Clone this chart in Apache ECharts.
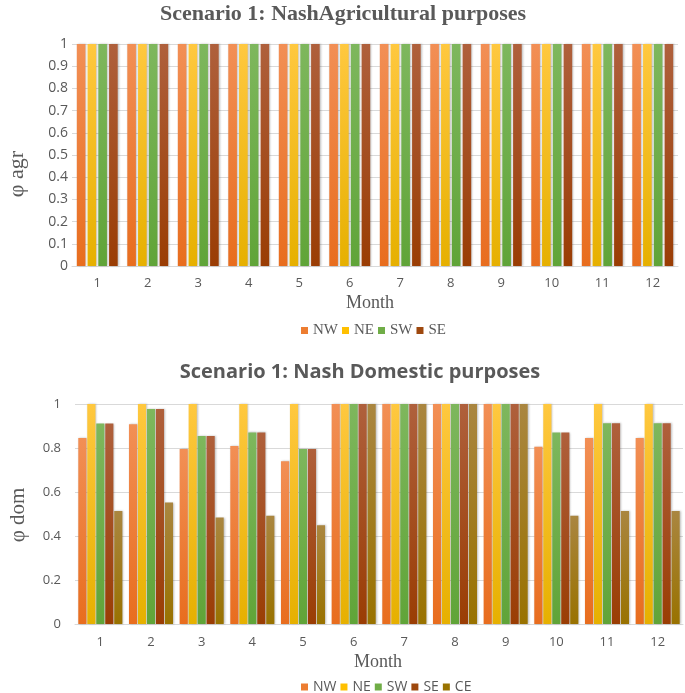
<!DOCTYPE html>
<html>
<head>
<meta charset="utf-8">
<script src="https://cdn.jsdelivr.net/npm/echarts@6/dist/echarts.min.js"></script>
<style>
html,body{margin:0;padding:0;background:#fff;}
#chart{width:685px;height:693px;}
</style>
</head>
<body>
<div id="chart"></div>
<script>
const months = ['1','2','3','4','5','6','7','8','9','10','11','12'];

const agrNW = [1,1,1,1,1,1,1,1,1,1,1,1];
const agrNE = [1,1,1,1,1,1,1,1,1,1,1,1];
const agrSW = [1,1,1,1,1,1,1,1,1,1,1,1];
const agrSE = [1,1,1,1,1,1,1,1,1,1,1,1];

const domNW = [0.846,0.908,0.796,0.809,0.740,1,1,1,1,0.806,0.846,0.846];
const domNE = [1,1,1,1,1,1,1,1,1,1,1,1];
const domSW = [0.911,0.977,0.855,0.871,0.796,1,1,1,1,0.870,0.912,0.912];
const domSE = [0.911,0.977,0.855,0.871,0.796,1,1,1,1,0.870,0.912,0.912];
const domCE = [0.514,0.552,0.484,0.492,0.449,1,1,1,1,0.492,0.514,0.514];

const topTitle = 'Scenario 1: NashAgricultural purposes';
const bottomTitle = 'Scenario 1: Nash Domestic purposes';

const pal = {
  NW: ['#F28F55', '#E86D1E', '#ED7D31'],
  NE: ['#FFC83F', '#E6B000', '#FFC000'],
  SW: ['#7EB75D', '#60A438', '#70AD47'],
  SE: ['#AF603C', '#9A3D04', '#9E480E'],
  CE: ['#AA8640', '#997200', '#997300']
};

function grad(k) {
  return new echarts.graphic.LinearGradient(0, 0, 0, 1, [
    {offset: 0, color: pal[k][0]},
    {offset: 1, color: pal[k][1]}
  ]);
}

function barSeries(name, data, idx, catGap, gap) {
  return {
    name: name, type: 'bar', data: data,
    xAxisIndex: idx, yAxisIndex: idx,
    barCategoryGap: catGap, barGap: gap,
    itemStyle: {color: grad(name), shadowColor: 'rgba(0,0,0,0.25)', shadowBlur: 2, shadowOffsetX: 1},
    emphasis: {disabled: true},
    animation: false
  };
}

const grey = '#595959';
const serif = '"Liberation Serif", "DejaVu Serif", serif';
const sans = '"Open Sans", "Liberation Sans", sans-serif';

const chart = echarts.init(document.getElementById('chart'), null, {renderer: 'canvas'});
chart.setOption({
  backgroundColor: '#fff',
  animation: false,
  grid: [
    {left: 72, right: 7, top: 44, height: 222},
    {left: 75, right: 2, top: 404, height: 220}
  ],
  xAxis: [
    {type: 'category', data: months, gridIndex: 0,
     axisLine: {lineStyle: {color: '#d9d9d9'}}, axisTick: {show: false},
     axisLabel: {color: grey, fontSize: 13, fontFamily: sans, margin: 11}},
    {type: 'category', data: months, gridIndex: 1,
     axisLine: {lineStyle: {color: '#d9d9d9'}}, axisTick: {show: false},
     axisLabel: {color: grey, fontSize: 13, fontFamily: sans, margin: 12}}
  ],
  yAxis: [
    {type: 'value', gridIndex: 0, min: 0, max: 1, interval: 0.1,
     axisLine: {show: false}, axisTick: {show: false},
     splitLine: {lineStyle: {color: '#d9d9d9'}},
     axisLabel: {color: grey, fontSize: 14, fontFamily: sans, margin: 4}},
    {type: 'value', gridIndex: 1, min: 0, max: 1, interval: 0.2,
     axisLine: {show: false}, axisTick: {show: false},
     splitLine: {lineStyle: {color: '#d9d9d9'}},
     axisLabel: {color: grey, fontSize: 13, fontFamily: sans, margin: 14}}
  ],
  legend: [
    {left: 296, top: 318, itemWidth: 7, itemHeight: 7, itemGap: 4, icon: 'rect',
     textStyle: {color: grey, fontSize: 15, fontFamily: serif},
     selectedMode: false,
     data: ['NW','NE','SW','SE'].map(k => ({name: k, itemStyle: {color: pal[k][2]}}))},
    {left: 296, top: 675, itemWidth: 7, itemHeight: 7, itemGap: 4, icon: 'rect',
     textStyle: {color: grey, fontSize: 14, fontFamily: sans},
     selectedMode: false,
     data: ['NW','NE','SW','SE','CE'].map(k => ({name: k, itemStyle: {color: pal[k][2]}}))}
  ],
  graphic: [
    {type: 'text', x: 343, y: 14, style: {text: topTitle, fill: grey, font: 'bold 22px ' + serif, align: 'center', verticalAlign: 'middle'}},
    {type: 'text', x: 360, y: 372, style: {text: bottomTitle, fill: grey, font: 'bold 20px ' + sans, align: 'center', verticalAlign: 'middle'}},
    {type: 'text', x: 17, y: 174, rotation: Math.PI / 2, style: {text: 'φ agr', fill: grey, font: '22px ' + serif, align: 'center', verticalAlign: 'middle'}},
    {type: 'text', x: 18, y: 515, rotation: Math.PI / 2, style: {text: 'φ dom', fill: grey, font: '21px ' + serif, align: 'center', verticalAlign: 'middle'}},
    {type: 'text', x: 370, y: 303, style: {text: 'Month', fill: grey, font: '18px ' + serif, align: 'center', verticalAlign: 'middle'}},
    {type: 'text', x: 378, y: 662, style: {text: 'Month', fill: grey, font: '18px ' + serif, align: 'center', verticalAlign: 'middle'}}
  ],
  series: [
    barSeries('NW', agrNW, 0, '19%', '25%'),
    barSeries('NE', agrNE, 0, '19%', '25%'),
    barSeries('SW', agrSW, 0, '19%', '25%'),
    barSeries('SE', agrSE, 0, '19%', '25%'),
    barSeries('NW', domNW, 1, '13%', '10%'),
    barSeries('NE', domNE, 1, '13%', '10%'),
    barSeries('SW', domSW, 1, '13%', '10%'),
    barSeries('SE', domSE, 1, '13%', '10%'),
    barSeries('CE', domCE, 1, '13%', '10%')
  ]
});
</script>
</body>
</html>
